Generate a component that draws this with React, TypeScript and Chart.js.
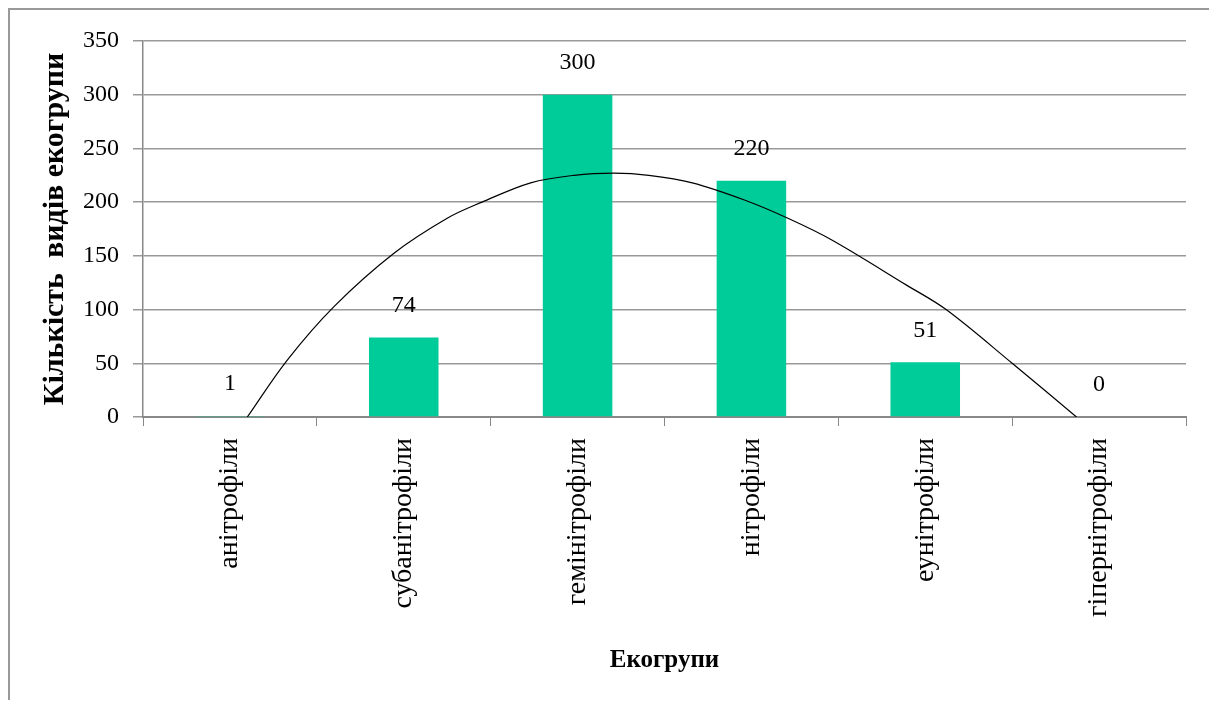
import React, { useEffect, useRef } from "react";
import { Chart, registerables } from "chart.js";

Chart.register(...registerables);

const categories = [
  "анітрофіли",
  "субанітрофіли",
  "гемінітрофіли",
  "нітрофіли",
  "еунітрофіли",
  "гіпернітрофіли",
];
const speciesCounts = [1, 74, 300, 220, 51, 0];
const yTicks = [0, 50, 100, 150, 200, 250, 300, 350];

// trend curve (x in category-index units)
const trendX = [0.1, 0.33, 0.6, 0.94, 1.25, 1.45, 1.73, 1.98, 2.21, 2.41, 2.66, 2.96, 3.21, 3.46, 3.89, 4.12, 4.5, 4.87];
const trendY = [0, 53, 103, 152, 185, 200, 218, 225, 227, 225, 218, 202, 185, 165, 123, 100, 50, 0];

const FONT = "'Liberation Serif', 'Times New Roman', serif";

const barLabels = {
  id: "barLabels",
  afterDatasetsDraw(chart: any) {
    const meta = chart.getDatasetMeta(0);
    const ctx = chart.ctx;
    ctx.save();
    ctx.font = `24px ${FONT}`;
    ctx.fillStyle = "#000";
    ctx.textAlign = "center";
    ctx.textBaseline = "middle";
    meta.data.forEach((el: any, i: number) => {
      ctx.fillText(String(speciesCounts[i]), el.x, el.y - 32);
    });
    ctx.restore();
  },
};

export default function App() {
  const ref = useRef<HTMLCanvasElement | null>(null);
  useEffect(() => {
    if (!ref.current) return;
    const chart = new Chart(ref.current, {
      type: "bar",
      data: {
        labels: categories,
        datasets: [
          {
            type: "bar",
            data: speciesCounts,
            backgroundColor: "#00CC99",
            barPercentage: 0.4,
            categoryPercentage: 1,
            grouped: false,
            order: 2,
          } as any,
          {
            type: "line",
            data: trendX.map((x, i) => ({ x, y: trendY[i] })),
            xAxisID: "x2",
            borderColor: "#000",
            borderWidth: 1.2,
            pointRadius: 0,
            tension: 0.35,
            fill: false,
            order: 1,
          } as any,
        ],
      },
      options: {
        animation: false,
        responsive: false,
        maintainAspectRatio: false,
        layout: { padding: { top: 31, right: 23, left: 0, bottom: 0 } },
        plugins: { legend: { display: false }, tooltip: { enabled: false } },
        scales: {
          x: {
            type: "category",
            grid: { display: true, drawOnChartArea: false, drawTicks: true, tickLength: 9, color: "#888", offset: true },
            border: { color: "#888", width: 2 },
            ticks: {
              color: "#000",
              font: { family: FONT, size: 28 },
              maxRotation: 90,
              minRotation: 90,
              padding: 12,
              autoSkip: false,
            },
            title: {
              display: true,
              text: "Екогрупи",
              color: "#000",
              font: { family: FONT, size: 25, weight: "bold" },
              padding: { top: 0, bottom: 24 },
            },
            afterFit(scale: any) {
              scale.height = 283;
            },
          },
          x2: {
            type: "linear",
            display: false,
            offset: false,
            grid: { offset: false },
            min: -0.5,
            max: 5.5,
          } as any,
          y: {
            min: 0,
            max: 350,
            afterBuildTicks(scale: any) {
              scale.ticks = yTicks.map((v) => ({ value: v }));
            },
            grid: { color: "#999", tickLength: 10, lineWidth: 1.5 },
            border: { color: "#888", width: 1.5 },
            ticks: {
              color: "#000",
              font: { family: FONT, size: 24 },
              padding: 14,
            },
            title: {
              display: true,
              text: "Кількість  видів екогрупи",
              color: "#000",
              font: { family: FONT, size: 30, weight: "bold" },
              padding: { top: 27, bottom: 0 },
            },
            afterFit(scale: any) {
              scale.width = 133;
            },
          },
        },
      },
      plugins: [barLabels],
    });
    return () => chart.destroy();
  }, []);
  return (
    <div
      style={{
        width: 1201,
        height: 692,
        boxSizing: "border-box",
        borderLeft: "2px solid #999",
        borderTop: "2px solid #999",
        background: "#fff",
      }}
    >
      <canvas ref={ref} width={1199} height={690} style={{ display: "block" }} />
    </div>
  );
}
